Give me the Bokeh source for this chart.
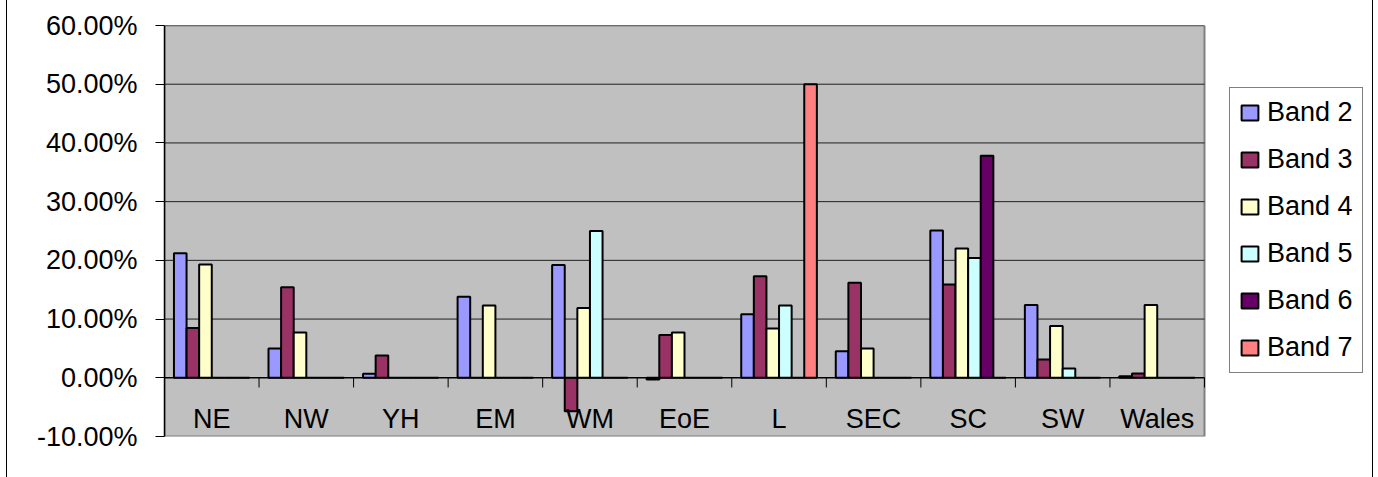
from bokeh.plotting import figure
from bokeh.models import (Range1d, NumeralTickFormatter, Legend, LegendItem,
                          ColumnDataSource, FixedTicker)
from bokeh.core.properties import value
from bokeh.embed import file_html
from bokeh.resources import INLINE

# ---------------- data ----------------
categories = ["NE", "NW", "YH", "EM", "WM", "EoE", "L", "SEC", "SC", "SW", "Wales"]
band_names = ["Band 2", "Band 3", "Band 4", "Band 5", "Band 6", "Band 7"]
band2 = [0.212, 0.050, 0.007, 0.138, 0.192, -0.003, 0.108, 0.045, 0.251, 0.124, 0.0025]
band3 = [0.085, 0.154, 0.038, 0.0, -0.057, 0.073, 0.173, 0.162, 0.159, 0.031, 0.0075]
band4 = [0.193, 0.077, 0.0, 0.123, 0.119, 0.077, 0.084, 0.050, 0.220, 0.088, 0.124]
band5 = [0.0, 0.0, 0.0, 0.0, 0.250, 0.0, 0.123, 0.0, 0.204, 0.016, 0.0]
band6 = [0.0, 0.0, 0.0, 0.0, 0.0, 0.0, 0.0, 0.0, 0.378, 0.0, 0.0]
band7 = [0.0, 0.0, 0.0, 0.0, 0.0, 0.0, 0.500, 0.0, 0.0, 0.0, 0.0]
y_ticks = [-0.1, 0.0, 0.1, 0.2, 0.3, 0.4, 0.5, 0.6]

series = [band2, band3, band4, band5, band6, band7]
colors = ["#9999FF", "#993366", "#FFFFCC", "#CCFFFF", "#660066", "#FF8080"]

FONT = "Liberation Sans"
FS = "27px"

n = len(categories)
PLOT_W = 1040          # pixel width of the grey plot area
FRAME_W = 1201         # frame also holds the legend to the right
x_end = n * FRAME_W / PLOT_W

p = figure(width=1365, height=477, output_backend="svg", toolbar_location=None,
           x_range=Range1d(0, x_end), y_range=Range1d(y_ticks[0], y_ticks[-1]),
           x_axis_location=None, min_border_left=157, min_border_right=7,
           min_border_top=25, min_border_bottom=41, margin=(0, 0, 0, 7),
           styles={"box-shadow": "-1px 0 0 0 #000000, 1px 0 0 0 #000000"})

p.background_fill_color = "white"
p.border_fill_color = "white"
p.outline_line_color = None
p.grid.visible = False

# grey plot area
p.quad(left=[0], right=[n], bottom=[y_ticks[0]], top=[y_ticks[-1]],
       fill_color="#C0C0C0", line_color="#808080", line_width=2)

# horizontal gridlines inside plot area
gl = [t for t in y_ticks if t > 0]
p.segment(x0=[0] * len(gl), y0=gl, x1=[n] * len(gl), y1=gl,
          line_color="#202020", line_width=1)

# y axis
ya = p.yaxis[0]
ya.ticker = FixedTicker(ticks=y_ticks)
ya.formatter = NumeralTickFormatter(format="0.00%")
ya.major_label_text_font = FONT
ya.major_label_text_font_size = FS
ya.major_label_text_color = "black"
ya.major_tick_out = 9
ya.major_tick_in = 0
ya.minor_tick_out = 0
ya.minor_tick_in = 0
ya.major_tick_line_color = "black"
ya.axis_line_color = "black"
ya.axis_line_width = 1.5
ya.major_label_standoff = 18

# category boundary ticks
nb = n + 1
p.segment(x0=list(range(nb)), y0=[0] * nb, x1=list(range(nb)), y1=[-0.0165] * nb,
          line_color="black", line_width=1)

# bars
nser = len(series)
group = 0.8
bw = group / nser
items = []
for k, (vals, col, name) in enumerate(zip(series, colors, band_names)):
    xs = [i + 0.5 - group / 2 + (k + 0.5) * bw for i in range(n)]
    src = ColumnDataSource(dict(x=xs, top=vals))
    r = p.vbar(x="x", top="top", bottom=0, width=bw, source=src,
               fill_color=col, line_color="black", line_width=2)
    items.append(LegendItem(label=name, renderers=[r]))

# zero line (category axis)
p.segment(x0=[0], y0=[0], x1=[n], y1=[0], line_color="black", line_width=1.5)

# category labels
p.text(x=[i + 0.5 for i in range(n)], y=[-0.071] * n,
       text=categories, text_font=value(FONT), text_font_size=FS,
       text_align="center", text_baseline="middle", text_color="black")

legend = Legend(items=items, location=(1065, 63))
legend.label_text_font = FONT
legend.label_text_font_size = FS
legend.label_text_color = "black"
legend.label_height = 30
legend.glyph_width = 21
legend.glyph_height = 19
legend.spacing = 16
legend.padding = 9
legend.label_standoff = 7
legend.border_line_color = "black"
legend.border_line_width = 1
legend.background_fill_color = "white"
legend.background_fill_alpha = 1
p.add_layout(legend)

open("out.html", "w").write(file_html(p, INLINE))
